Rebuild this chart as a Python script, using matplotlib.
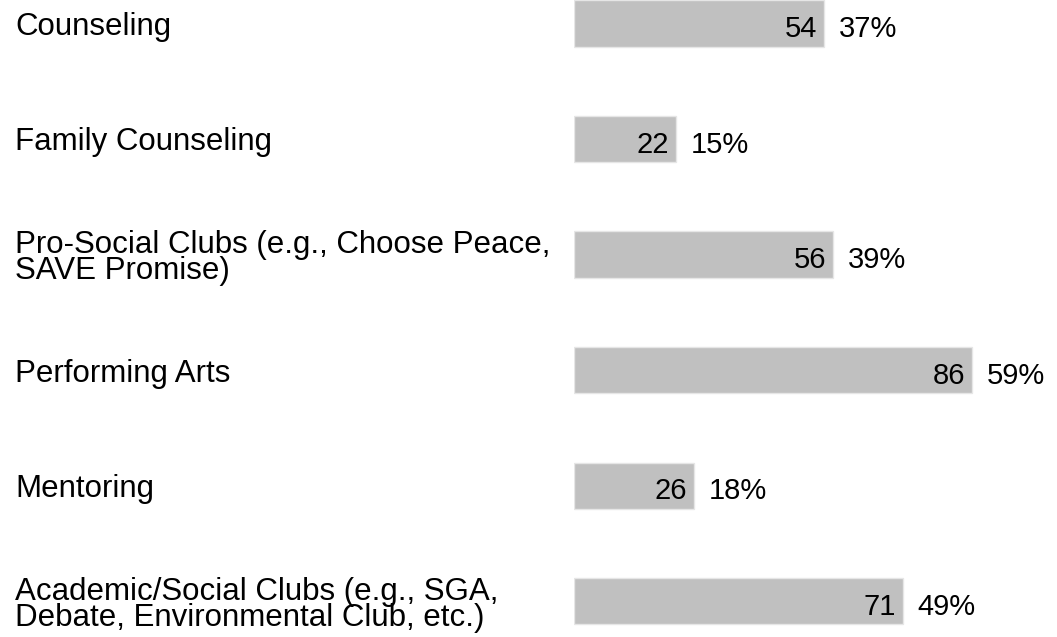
import matplotlib
matplotlib.use('Agg')
import matplotlib.pyplot as plt
from matplotlib.transforms import blended_transform_factory

categories = ['Counseling', 'Family Counseling',
              'Pro-Social Clubs (e.g., Choose Peace,\nSAVE Promise)',
              'Performing Arts', 'Mentoring',
              'Academic/Social Clubs (e.g., SGA,\nDebate, Environmental Club, etc.)']
counts = [54, 22, 56, 86, 26, 71]
percents = [37, 15, 39, 59, 18, 49]

plt.rcParams['font.family'] = ['Liberation Sans', 'DejaVu Sans']

fig = plt.figure(figsize=(10.57, 6.37), dpi=100)
ax = fig.add_axes([574 / 1057, 0, 483 / 1057, 1])

y = list(range(len(categories)))
ax.barh(y, counts, height=0.4, color='#c0c0c0', edgecolor='#e6e6e6', linewidth=1)
ax.set_xlim(0, 483 / 4.63)
ax.set_ylim(5.31, -0.203)
ax.axis('off')

trans = blended_transform_factory(fig.transFigure, ax.transData)
for i, (cat, n, p) in enumerate(zip(categories, counts, percents)):
    ax.text(15 / 1057, i + 0.03, cat, transform=trans, ha='left', va='center',
            fontsize=22.5, linespacing=0.83)
    ax.text(n - 1.5, i + 0.05, str(n), ha='right', va='center', fontsize=21)
    ax.text(n + 3.2, i + 0.05, f'{p}%', ha='left', va='center', fontsize=21)

fig.savefig('out.png', dpi=100)
